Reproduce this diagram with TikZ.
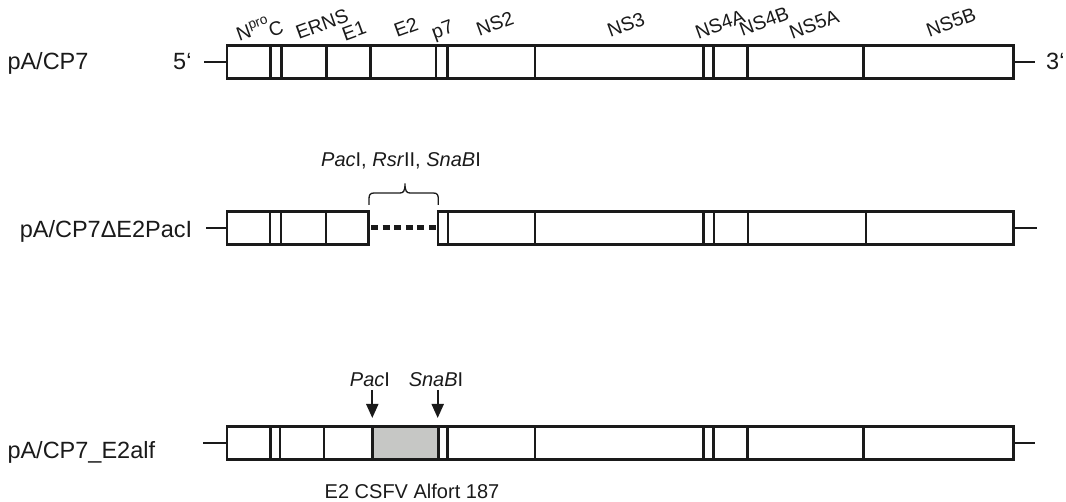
\documentclass[tikz,border=0pt]{standalone}
\usepackage{fontspec}
\setmainfont{Liberation Sans}
\usetikzlibrary{arrows.meta,calc}
\definecolor{e2gray}{HTML}{C6C7C5}
\definecolor{ink}{HTML}{1A1A1A}
\tikzset{
  seg/.style={rectangle, draw=ink, line width=2.6pt, minimum height=32.5pt, inner sep=0pt, outer sep=0pt},
  lab/.style={font=\fontsize{23.5}{27}\selectfont, inner sep=0pt, anchor=base west, text=ink},
  gene/.style={font=\fontsize{19.5}{23}\selectfont, rotate=20, inner sep=0pt, text=ink},
  site/.style={font=\fontsize{20}{24}\selectfont, inner sep=0pt, anchor=base, text=ink},
  stub/.style={draw=ink, line width=2.6pt},
  cut/.style={draw=ink, line width=2pt, -{Triangle[width=12pt,length=14pt]}},
  gapline/.style={draw=ink, line width=5pt, dash pattern=on 7pt off 4.6pt},
  bracket/.style={draw=ink, line width=1.3pt},
}
\begin{document}
\begin{tikzpicture}[x=1pt,y=-1pt]
\path[use as bounding box] (0,0) rectangle (1066,502);

% ---------- row 1: pA/CP7 ----------
\foreach \a/\b/\n in {227/270.7/1,270.7/281.7/2,281.7/326.7/3,326.7/370.7/4,370.7/436/5,436/447.3/6,447.3/535/7,535/703.3/8,703.3/713.7/9,713.7/747.7/10,747.7/863.7/11,863.7/1013.7/12}
  \node[seg, fill=white, minimum width={\b-\a}] (a\n) at ({(\a+\b)/2},62) {};
\coordinate (a0) at (204,62);
\coordinate (a13) at (1035,62);
\draw[stub] (a0) -- (a1.west);
\draw[stub] (a12.east) -- (a13);
\node[lab] (l1) at (7.3,70) {pA/CP7};
\node[lab] (five) at (173,70) {5‘};
\node[lab] (three) at (1046,70) {3‘};

\node[gene] (gNpro) at (253,29) {N\textsuperscript{pro}};
\node[gene] (gC) at (276,29) {C};
\node[gene] (gERNS) at (322,24) {ERNS};
\node[gene] (gE1) at (354,31) {E1};
\node[gene] (gE2) at (406,27) {E2};
\node[gene] (gp7) at (443,31) {p7};
\node[gene] (gNS2) at (495,24) {NS2};
\node[gene] (gNS3) at (626,25) {NS3};
\node[gene] (gNS4A) at (720,24) {NS4A};
\node[gene] (gNS4B) at (764,21) {NS4B};
\node[gene] (gNS5A) at (814,24) {NS5A};
\node[gene] (gNS5B) at (951,22) {NS5B};

% ---------- row 2: deletion ----------
\foreach \a/\b/\n in {227/270/1,270/281/2,281/326/3,326/368.6/4,438/448/6,448/535/7,535/703.5/8,703.5/714/9,714/748/10,748/866/11,866/1013.7/12}
  \node[seg, fill=white, minimum width={\b-\a}] (b\n) at ({(\a+\b)/2},228) {};
\coordinate (b0) at (206,228);
\coordinate (b13) at (1037,228);
\draw[stub] (b0) -- (b1.west);
\draw[stub] (b12.east) -- (b13);
\draw[gapline, shorten <=2.4pt, shorten >=2pt] (b4.east) -- (b6.west);
\node[lab] (l2) at (19.6,238) {pA/CP7ΔE2PacI};
\draw[bracket] (369,205) -- (369,199) .. controls (369,195) and (370,193) .. (374,193)
  -- (400,193) .. controls (403.5,193) and (405,191) .. (405,183.5)
  .. controls (405,191) and (406.5,193) .. (410,193)
  -- (433.3,193) .. controls (437.3,193) and (438.3,195) .. (438.3,199) -- (438.3,205);
\node[site] (sites) at (401,167) {\textit{Pac}I, \textit{Rsr}II, \textit{SnaB}I};

% ---------- row 3: E2 Alfort ----------
\foreach \a/\b/\n/\f in {227/270.7/1/white,270.7/280/2/white,280/324/3/white,324/372.3/4/white,372.3/438.3/5/e2gray,438.3/447.3/6/white,447.3/535/7/white,535/703.3/8/white,703.3/713.7/9/white,713.7/747.7/10/white,747.7/863.7/11/white,863.7/1013.7/12/white}
  \node[seg, fill=\f, minimum width={\b-\a}] (c\n) at ({(\a+\b)/2},443) {};
\coordinate (c0) at (203,443);
\coordinate (c13) at (1035,443);
\draw[stub] (c0) -- (c1.west);
\draw[stub] (c12.east) -- (c13);
\node[lab] (l3) at (7.3,458.3) {pA/CP7\_E2alf};

\node[site] (pac) at (370,386.7) {\textit{Pac}I};
\node[site] (snab) at (436,386.7) {\textit{SnaB}I};
\coordinate (pacS) at (372.3,390);
\coordinate (pacE) at (372.3,418);
\coordinate (snabS) at (437.7,390);
\coordinate (snabE) at (437.7,418);
\draw[cut] (pacS) -- (pacE);
\draw[cut] (snabS) -- (snabE);
\node[site] (alf) at (412,498) {E2 CSFV Alfort 187};
\end{tikzpicture}
\end{document}
